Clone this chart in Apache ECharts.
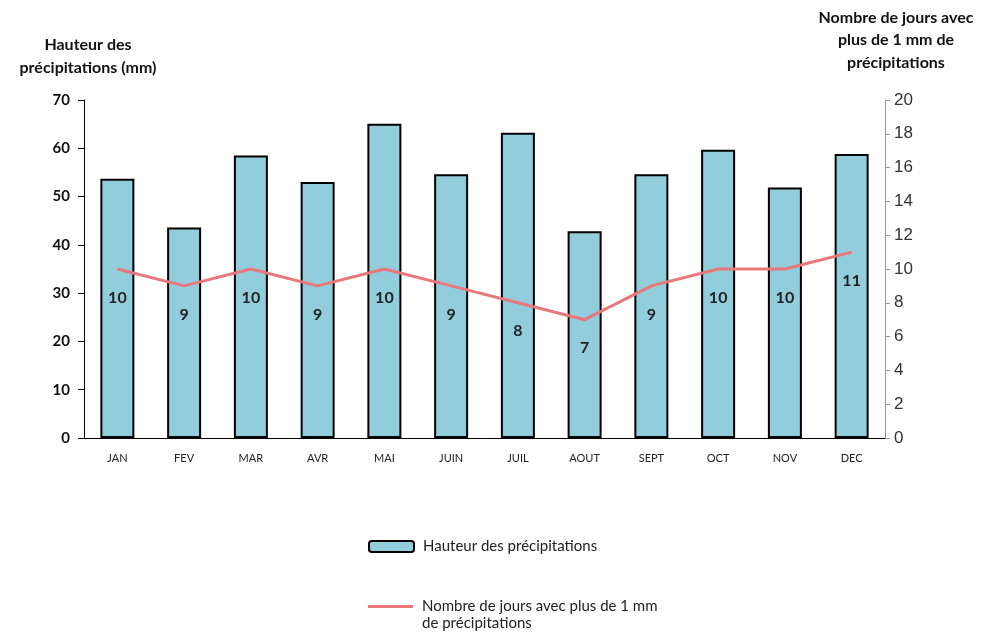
<!DOCTYPE html>
<html>
<head>
<meta charset="utf-8">
<script src="https://cdn.jsdelivr.net/npm/echarts@6/dist/echarts.min.js"></script>
<style>html,body{margin:0;padding:0;background:#fff}#c{width:982px;height:635px}</style>
</head>
<body>
<div id="c"></div>
<script>
var months = ['JAN','FEV','MAR','AVR','MAI','JUIN','JUIL','AOUT','SEPT','OCT','NOV','DEC'];
var rainMm = [53.7, 43.6, 58.5, 53.0, 65.1, 54.6, 63.2, 42.8, 54.6, 59.7, 51.9, 58.8];
var rainDays = [10, 9, 10, 9, 10, 9, 8, 7, 9, 10, 10, 11];
var barName = 'Hauteur des précipitations';
var lineName = 'Nombre de jours avec plus de 1 mm';
var lineName2 = 'de précipitations';

var chart = echarts.init(document.getElementById('c'));
chart.setOption({
  animation: false,
  grid: {left: 84, right: 97, top: 100, bottom: 197},
  xAxis: {
    type: 'category', data: months,
    axisLine: {lineStyle: {color: '#000', width: 1}},
    axisTick: {show: false},
    axisLabel: {color: '#222', fontSize: 11, fontFamily: 'Lato', margin: 15}
  },
  yAxis: [{
    type: 'value', min: 0, max: 70, interval: 10,
    name: 'Hauteur des\nprécipitations (mm)', nameLocation: 'end', nameGap: 21,
    nameTextStyle: {color: '#111', fontWeight: 'bold', fontSize: 16, fontFamily: 'Lato', lineHeight: 23, align: 'center', padding: [0,0,0,8]},
    axisLine: {show: true, lineStyle: {color: '#000'}},
    axisTick: {show: true, length: 6, lineStyle: {color: '#000'}},
    splitLine: {show: false},
    axisLabel: {color: '#111', fontWeight: 'bold', fontSize: 15, fontFamily: 'Lato', margin: 14}
  }, {
    type: 'value', min: 0, max: 20, interval: 2,
    name: 'Nombre de jours avec\nplus de 1 mm de\nprécipitations', nameLocation: 'end', nameGap: 26,
    nameTextStyle: {color: '#111', fontWeight: 'bold', fontSize: 16, fontFamily: 'Lato', lineHeight: 22.5, align: 'center', padding: [0,0,0,22]},
    axisLine: {show: true, lineStyle: {color: '#999'}},
    axisTick: {show: true, length: 5, lineStyle: {color: '#999'}},
    splitLine: {show: false},
    axisLabel: {color: '#333', fontSize: 17, fontFamily: 'Liberation Sans', margin: 9}
  }],
  legend: [{
    left: 363, top: 534, itemWidth: 45, itemHeight: 11, itemGap: 0,
    data: [barName],
    textStyle: {color: '#222', fontSize: 15, fontFamily: 'Lato', padding: [0,0,0,4]}
  }, {
    left: 363, top: 594, itemWidth: 45, itemHeight: 3, itemGap: 0,
    data: [{name: lineName, icon: 'rect'}],
    textStyle: {color: '#222', fontSize: 15, fontFamily: 'Lato', padding: [0,0,0,4]}
  }],
  graphic: [{
    type: 'text', left: 422, top: 616,
    style: {text: lineName2, fill: '#222', fontSize: 15, fontFamily: 'Lato'}
  }],
  series: [{
    name: barName, type: 'bar', data: rainMm, barWidth: 34, yAxisIndex: 0,
    itemStyle: {color: '#92CDDC', borderColor: '#000', borderWidth: 2}
  }, {
    name: lineName, type: 'line', data: rainDays, yAxisIndex: 1,
    symbol: 'circle', symbolSize: 1, showSymbol: true,
    lineStyle: {color: '#E8787B', width: 3},
    itemStyle: {color: '#E8787B'},
    label: {show: true, position: 'bottom', distance: 20, color: '#222', fontWeight: 'bold', fontSize: 16, fontFamily: 'Lato'}
  }]
});
</script>
</body>
</html>
